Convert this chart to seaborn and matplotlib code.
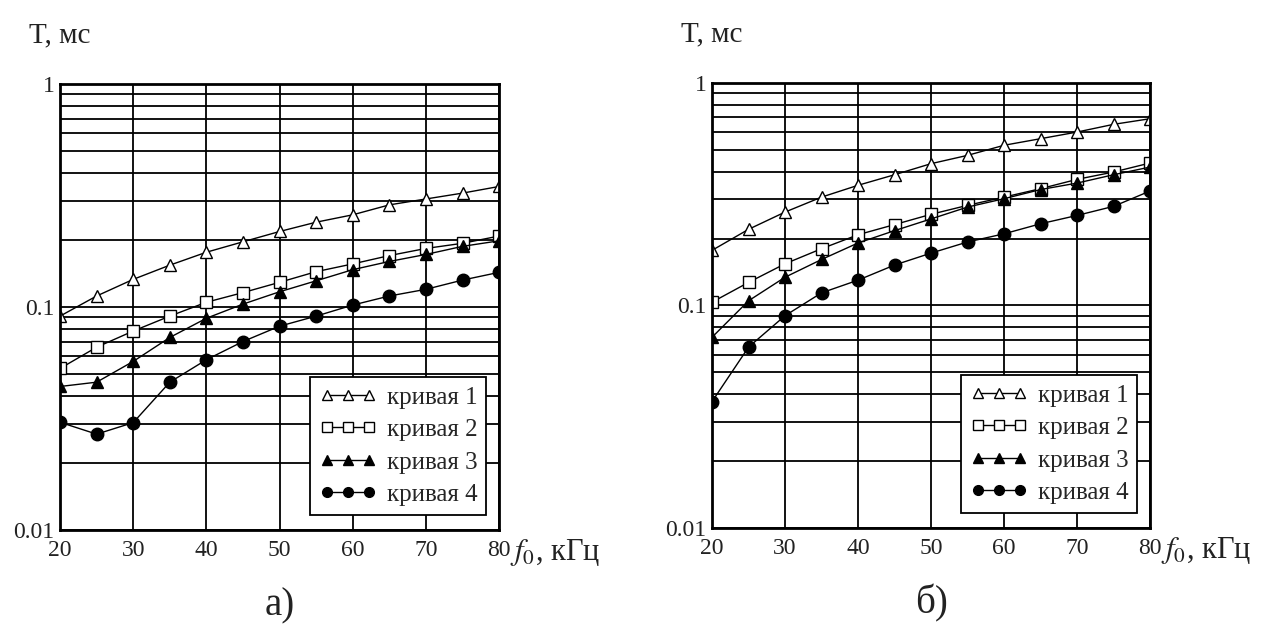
import matplotlib
matplotlib.use("Agg")
import matplotlib.pyplot as plt
import seaborn as sns
import numpy as np
import pandas as pd

# ---- data ----
f0 = [20, 25, 30, 35, 40, 45, 50, 55, 60, 65, 70, 75, 80]

a_curve1 = [0.091, 0.112, 0.133, 0.154, 0.176, 0.196, 0.218, 0.240, 0.259, 0.287, 0.305, 0.324, 0.347]
a_curve2 = [0.053, 0.066, 0.078, 0.091, 0.105, 0.116, 0.129, 0.144, 0.156, 0.170, 0.183, 0.193, 0.208]
a_curve3 = [0.044, 0.046, 0.057, 0.073, 0.089, 0.103, 0.117, 0.131, 0.147, 0.160, 0.172, 0.187, 0.198]
a_curve4 = [0.0304, 0.0269, 0.0303, 0.046, 0.058, 0.070, 0.082, 0.091, 0.102, 0.112, 0.120, 0.132, 0.143]

b_curve1 = [0.177, 0.220, 0.263, 0.307, 0.347, 0.387, 0.434, 0.473, 0.525, 0.562, 0.602, 0.652, 0.691]
b_curve2 = [0.1035, 0.127, 0.154, 0.180, 0.208, 0.231, 0.257, 0.282, 0.307, 0.335, 0.369, 0.398, 0.437]
b_curve3 = [0.072, 0.105, 0.134, 0.161, 0.191, 0.217, 0.245, 0.277, 0.302, 0.332, 0.355, 0.387, 0.419]
b_curve4 = [0.037, 0.065, 0.090, 0.114, 0.130, 0.152, 0.172, 0.193, 0.210, 0.233, 0.254, 0.279, 0.327]

labels = ["кривая 1", "кривая 2", "кривая 3", "кривая 4"]
xticks = [20, 30, 40, 50, 60, 70, 80]
yticks = [0.01, 0.1, 1]
ytick_labels = ["0.01", "0.1", "1"]
panel_titles = ["а)", "б)"]
ylabel = "T, мс"
xlabel = "$f_0$, кГц"

sns.set_theme(style="white")
plt.rcParams["font.family"] = ["Liberation Serif", "DejaVu Serif"]
plt.rcParams["mathtext.fontset"] = "stix"

fig = plt.figure(figsize=(12.86, 6.42), dpi=100)

styles = [
    dict(marker="^", markerfacecolor="white", markersize=8),
    dict(marker="s", markerfacecolor="white", markersize=8),
    dict(marker="^", markerfacecolor="black", markersize=9),
    dict(marker="o", markerfacecolor="black", markersize=9),
]

panels = [
    ([0.0467, 0.1745, 0.3414, 0.6947], [a_curve1, a_curve2, a_curve3, a_curve4]),
    ([0.5537, 0.1776, 0.3406, 0.6931], [b_curve1, b_curve2, b_curve3, b_curve4]),
]

for i, (rect, curves) in enumerate(panels):
    ax = fig.add_axes(rect)
    rows = []
    for lab, vals in zip(labels, curves):
        for x, v in zip(f0, vals):
            rows.append({"f0": x, "T": v, "curve": lab})
    df = pd.DataFrame(rows)
    for lab, st in zip(labels, styles):
        sub = df[df["curve"] == lab]
        sns.lineplot(data=sub, x="f0", y="T", ax=ax, color="black", lw=1.0,
                     markeredgecolor="black", markeredgewidth=1.0, label=lab, **st)
    ax.set_yscale("log")
    ax.set_xlim(20, 80)
    ax.set_ylim(0.01, 1)
    ax.set_xticks(xticks)
    ax.set_xticklabels([str(t) for t in xticks], fontsize=17)
    ax.set_yticks(yticks)
    ax.set_yticklabels(ytick_labels, fontsize=17)
    ax.yaxis.set_minor_locator(matplotlib.ticker.LogLocator(base=10, subs=np.arange(2, 10)))
    ax.yaxis.set_minor_formatter(matplotlib.ticker.NullFormatter())
    ax.tick_params(axis="both", which="both", length=0, pad=4, colors="#222222")
    ax.tick_params(axis="x", pad=7)
    ax.grid(True, which="major", axis="both", color="black", lw=1.3)
    ax.grid(True, which="minor", axis="y", color="black", lw=1.3)
    ax.set_axisbelow(True)
    for sp in ax.spines.values():
        sp.set_color("black")
        sp.set_linewidth(2.0)
    ax.set_xlabel("")
    ax.set_ylabel("")
    leg = ax.legend(loc="lower right", bbox_to_anchor=(0.97, 0.034), numpoints=3,
                    frameon=True, fancybox=False, framealpha=1, edgecolor="black",
                    fontsize=18, handlelength=2.3, handletextpad=0.4,
                    borderpad=0.35, labelspacing=0.4, borderaxespad=0)
    leg.get_frame().set_linewidth(1.3)
    for h in leg.legend_handles:
        h.set_markersize(7)
    # axis titles
    ax.text(-0.07, 1.11, ylabel, transform=ax.transAxes, fontsize=21,
            ha="left", va="center", color="#222222")
    ax.text(1.025, -0.05, xlabel, transform=ax.transAxes, fontsize=22,
            ha="left", va="center", color="#222222")
    ax.text(0.5, -0.17, panel_titles[i], transform=ax.transAxes, fontsize=28,
            ha="center", va="center", color="#222222")

fig.savefig("out.png", dpi=100, facecolor="white")
